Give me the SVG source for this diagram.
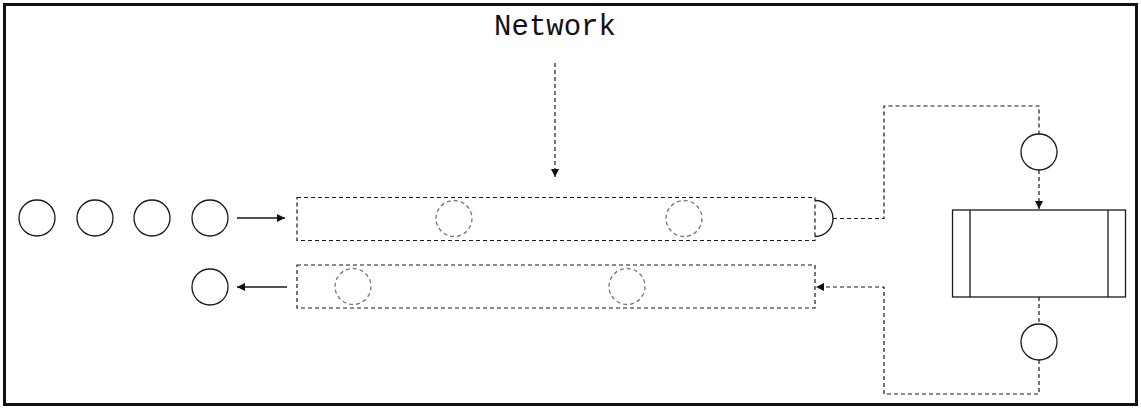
<svg xmlns="http://www.w3.org/2000/svg" width="1141" height="409" viewBox="0 0 1141 409">
<style>
.solid{fill:none;stroke:#1a1a1a;stroke-width:1.3}
.dash{fill:none;stroke:#1a1a1a;stroke-width:1.2;stroke-dasharray:4 3}
.gdash{fill:none;stroke:#777;stroke-width:1.3;stroke-dasharray:4 3}
.lbl{font-family:"Liberation Mono","Courier New",monospace;font-size:29px;fill:#111}
</style>
<defs>
<marker id="ah" viewBox="0 0 10 10" refX="10" refY="5" markerWidth="8" markerHeight="8" markerUnits="userSpaceOnUse" orient="auto">
<path d="M0,0 L10,5 L0,10 z" fill="#111"/>
</marker>
</defs>
<rect x="0" y="0" width="1141" height="409" fill="#fff"/>
<rect x="4.5" y="4.5" width="1132" height="400" fill="none" stroke="#111" stroke-width="3"/>
<g id="label-network"><text class="lbl" x="555" y="35" text-anchor="middle">Network</text></g>
<g id="queue-in">
<circle class="solid" cx="37" cy="218" r="18"/>
<circle class="solid" cx="95" cy="218" r="18"/>
<circle class="solid" cx="152" cy="218" r="18"/>
<circle class="solid" cx="210" cy="218" r="18"/>
</g>
<g id="out-item"><circle class="solid" cx="210" cy="287" r="18"/></g>
<g id="pipe-top">
<rect class="dash" x="297" y="197.5" width="518" height="43"/>
<circle class="gdash" cx="454" cy="218.5" r="18"/>
<circle class="gdash" cx="684" cy="218.5" r="18"/>
<path class="solid" d="M815,200.5 A18,18 0 0 1 815,236.5"/>
</g>
<g id="pipe-bottom">
<rect class="dash" x="297" y="265" width="518" height="43"/>
<circle class="gdash" cx="353" cy="286.5" r="18"/>
<circle class="gdash" cx="627" cy="286.5" r="18"/>
</g>
<g id="item-top"><circle class="solid" cx="1039" cy="152" r="18"/></g>
<g id="item-bottom"><circle class="solid" cx="1039" cy="342" r="18"/></g>
<g id="server">
<rect class="solid" x="952.5" y="210" width="173" height="87"/>
<line class="solid" x1="970" y1="210" x2="970" y2="297"/>
<line class="solid" x1="1108" y1="210" x2="1108" y2="297"/>
</g>
<g id="connectors">
<line class="dash" x1="555" y1="63" x2="555" y2="177" marker-end="url(#ah)"/>
<line class="solid" x1="237" y1="218" x2="285" y2="218" marker-end="url(#ah)"/>
<line class="solid" x1="287" y1="287" x2="237" y2="287" marker-end="url(#ah)"/>
<path class="dash" d="M833,218.5 H884 V106 H1039 V134"/>
<line class="dash" x1="1039" y1="170" x2="1039" y2="209" marker-end="url(#ah)"/>
<line class="dash" x1="1039" y1="297" x2="1039" y2="324"/>
<path class="dash" d="M1039,360 V394 H884 V287 H816" marker-end="url(#ah)"/>
</g>
</svg>
